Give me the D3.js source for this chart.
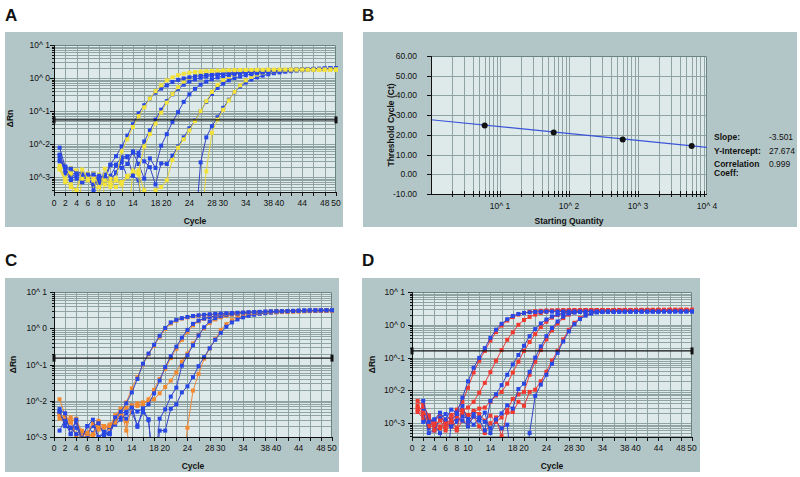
<!DOCTYPE html>
<html><head><meta charset="utf-8">
<script src="https://cdn.jsdelivr.net/npm/d3@7"></script>
<style>body{margin:0;background:#fff} svg{display:block}</style>
</head><body>
<svg id="fig" width="800" height="477"></svg>
<script>
// ---------------- DATA ----------------
const cycleTickLabels = [0,2,4,6,8,10,14,18,20,24,28,30,34,38,40,44,48,50];
const logTickExp = [1,0,-1,-2,-3];
const logTickText = ["10^ 1","10^ 0","10^-1","10^-2","10^-3"];

// Panel A (delta Rn per cycle 1..50)
const aBlue1 = [0.0078,0.0020,0.0018,0.0013,0.0012,0.0011,0.0012,0.0010,0.0011,0.0024,0.0043,0.0085,0.018,0.040,0.085,0.15,0.24,0.36,0.48,0.60,0.76,0.88,0.97,1.05,1.12,1.18,1.24,1.29,1.34,1.39,1.43,1.47,1.51,1.54,1.57,1.60,1.63,1.66,1.69,1.72,1.75,1.78,1.81,1.84,1.87,1.90,1.92,1.95,1.97,1.99];
const aYellow1 = [0.0019,0.0008,0.0006,0.0004,0.0017,0.0009,0.0008,0.0003,0.0018,0.0009,0.0009,0.0060,0.014,0.033,0.070,0.13,0.24,0.40,0.60,0.85,1.05,1.22,1.35,1.45,1.52,1.58,1.62,1.65,1.68,1.70,1.72,1.73,1.74,1.75,1.76,1.77,1.77,1.78,1.78,1.79,1.79,1.80,1.80,1.81,1.81,1.82,1.82,1.83,1.83,1.84];
const aBlue2 = [0.0045,0.0019,0.0009,0.0011,0.0007,0.0012,0.0004,0.0011,0.0008,0.0023,0.0024,0.0040,0.0043,0.0011,0.0055,0.012,0.026,0.055,0.11,0.20,0.32,0.47,0.63,0.78,0.91,1.02,1.11,1.19,1.26,1.32,1.37,1.42,1.46,1.50,1.53,1.56,1.59,1.62,1.65,1.68,1.71,1.74,1.77,1.80,1.83,1.86,1.88,1.91,1.93,1.95];
const aYellow2 = [0.0022,0.0009,0.0019,0.0016,0.0009,0.0008,0.0013,0.0005,0.0008,0.0007,0.0008,0.0007,0.0011,0.0015,0.0016,0.0085,0.020,0.042,0.090,0.18,0.33,0.53,0.78,1.00,1.18,1.32,1.43,1.51,1.57,1.62,1.66,1.69,1.71,1.73,1.74,1.75,1.76,1.77,1.78,1.78,1.79,1.79,1.80,1.80,1.81,1.81,1.82,1.82,1.83,1.83];
const aBlue3 = [0.0035,0.0015,0.0008,0.0012,0.0010,0.0009,0.0006,0.0009,0.0012,0.0008,0.0014,0.0035,0.0040,0.0055,0.0025,0.0009,0.0037,0.0019,0.0090,0.020,0.047,0.093,0.19,0.32,0.47,0.63,0.78,0.92,1.04,1.14,1.23,1.31,1.38,1.44,1.49,1.54,1.58,1.62,1.65,1.68,1.71,1.74,1.77,1.80,1.83,1.86,1.88,1.91,1.93,1.95];
const aBlue4 = [0.0030,0.0021,0.0014,0.0009,0.0007,0.0010,0.0008,0.0006,0.0009,0.0011,0.0022,0.0019,0.0025,0.0060,0.0045,0.0030,0.0020,0.0006,0.0026,0.0025,0.0045,0.0085,0.016,0.030,0.052,0.10,0.19,0.33,0.50,0.68,0.85,1.00,1.12,1.22,1.31,1.39,1.46,1.52,1.57,1.62,1.66,1.70,1.74,1.78,1.81,1.84,1.87,1.90,1.93,1.95];
const aYellow3 = [0.0018,0.0019,0.0013,-0.0002,0.0012,0.0013,0.0009,0.0012,0.0006,0.0005,0.0008,0.0006,0.0010,0.0012,0.0013,0.0004,-0.0003,0.0004,0.0005,0.0008,0.0033,0.0078,0.014,0.026,0.050,0.10,0.20,0.38,0.62,0.88,1.10,1.28,1.41,1.51,1.58,1.63,1.67,1.70,1.72,1.74,1.75,1.76,1.77,1.78,1.79,1.79,1.80,1.80,1.81,1.81];
const aBlue5 = [0.0048,0.0013,0.0011,0.0015,0.0013,0.0008,0.0013,0.0007,0.0010,0.0009,0.0013,0.0028,0.0010,0.0011,0.0008,-0.0005,-0.0008,-0.0010,-0.0009,-0.0011,-0.0010,-0.0012,-0.0009,-0.0010,-0.0006,0.0028,0.016,0.035,0.065,0.125,0.22,0.37,0.55,0.73,0.90,1.05,1.18,1.30,1.40,1.48,1.55,1.61,1.67,1.72,1.77,1.81,1.85,1.88,1.91,1.94];
const aYellow4 = [0.0017,0.0007,0.0005,0.0004,0.0011,0.0008,0.0006,-0.0002,0.0008,0.0006,0.0005,0.0007,-0.0003,0.0016,0.0012,-0.0004,-0.0006,-0.0008,-0.0007,-0.0009,-0.0010,-0.0008,-0.0009,-0.0007,-0.0008,-0.0005,0.0015,0.022,0.055,0.11,0.21,0.38,0.60,0.85,1.08,1.27,1.41,1.51,1.58,1.63,1.67,1.70,1.72,1.74,1.75,1.76,1.77,1.78,1.79,1.80];
const aThreshold = 0.054;

// Panel B (standard curve)
const bQuantity = [6, 60, 600, 6000];
const bCt = [24.8, 21.2, 17.6, 14.4];
const bYTicks = [60, 50, 40, 30, 20, 10, 0, -10];
const bXTickExp = [1, 2, 3, 4];
const bSlope = -3.501, bIntercept = 27.674, bCorr = 0.999;
const bStatLabels = ["Slope:", "Y-Intercept:", "Correlation"];
const bStatValues = ["-3.501", "27.674", "0.999"];

// Panel C
const cBlue1 = [0.0059,0.0045,0.0012,0.0030,0.0009,0.0020,0.0030,0.0010,0.0014,0.0013,0.0035,0.0050,0.0085,0.017,0.040,0.105,0.20,0.35,0.62,1.02,1.45,1.70,1.90,2.05,2.18,2.28,2.36,2.43,2.50,2.55,2.60,2.64,2.68,2.72,2.76,2.80,2.83,2.86,2.89,2.92,2.95,2.97,2.99,3.01,3.03,3.05,3.07,3.09,3.10,3.12];
const cOrange1 = [0.0110,0.0040,0.0025,0.0032,0.0011,0.0013,0.0024,0.0018,0.0020,0.0020,0.0025,0.0045,0.0090,0.022,0.045,0.10,0.19,0.33,0.58,0.95,1.35,1.62,1.85,2.00,2.12,2.22,2.30,2.37,2.43,2.49,2.54,2.59,2.63,2.67,2.71,2.75,2.78,2.81,2.84,2.87,2.89,2.91,2.93,2.95,2.97,2.99,3.01,3.02,3.03,3.04];
const cBlue2 = [0.0050,0.0020,0.0018,0.0012,0.0011,0.0013,0.0020,0.0024,0.0012,0.0019,0.0022,0.0030,0.0045,0.0065,0.0050,0.0060,0.0080,0.016,0.036,0.085,0.17,0.31,0.55,0.90,1.32,1.62,1.86,2.04,2.18,2.30,2.40,2.48,2.55,2.61,2.67,2.72,2.77,2.81,2.85,2.89,2.92,2.95,2.98,3.00,3.03,3.05,3.07,3.09,3.11,3.13];
const cOrange2 = [0.0040,0.0036,0.0028,0.0010,0.0009,0.0012,0.0011,0.0024,0.0020,0.0018,0.0040,0.0060,0.0015,0.0068,0.0072,0.0080,0.011,0.020,0.040,0.075,0.15,0.27,0.48,0.80,1.20,1.55,1.82,2.02,2.17,2.30,2.40,2.48,2.55,2.61,2.66,2.71,2.75,2.79,2.83,2.86,2.89,2.92,2.94,2.97,2.99,3.01,3.03,3.05,3.06,3.08];
const cBlue3 = [0.0015,0.0030,0.0018,0.0025,0.0008,0.0011,0.0023,0.0009,0.0013,0.0012,0.0026,0.0038,0.0032,0.0048,0.0021,0.0048,0.0031,-0.0004,0.0032,0.0058,0.013,0.023,0.093,0.18,0.34,0.63,1.07,1.55,1.90,2.15,2.32,2.45,2.55,2.63,2.70,2.76,2.81,2.86,2.90,2.94,2.97,3.00,3.03,3.06,3.08,3.10,3.12,3.14,3.16,3.18];
const cOrange3 = [0.0032,0.0030,0.0035,0.0028,0.0015,0.0010,0.0012,0.0028,0.0018,0.0022,0.0030,0.0045,0.0065,0.0075,0.0085,0.0090,0.0095,0.011,0.016,0.024,0.036,0.060,0.12,0.20,0.38,0.65,1.00,1.40,1.75,2.00,2.20,2.35,2.47,2.57,2.65,2.72,2.78,2.83,2.87,2.91,2.94,2.97,3.00,3.02,3.04,3.06,3.08,3.10,3.11,3.12];
const cBlue4 = [0.0048,0.0025,0.0012,0.0018,0.0010,0.0020,0.0013,0.0025,0.0011,0.0012,0.0030,0.0045,0.0050,0.0075,0.0019,0.0062,0.0029,-0.0003,0.0015,0.0015,0.0060,0.0080,0.017,0.025,0.045,0.090,0.16,0.28,0.48,0.75,1.10,1.45,1.75,2.00,2.20,2.36,2.50,2.60,2.70,2.78,2.85,2.91,2.96,3.00,3.04,3.08,3.11,3.14,3.17,3.20];
const cOrange4 = [0.0042,0.0021,0.0026,0.0012,0.0014,0.0011,0.0009,0.0016,0.0019,0.0017,0.0034,0.0060,0.0027,-0.0004,-0.0006,-0.0008,-0.0007,-0.0009,-0.0008,-0.0010,-0.0009,-0.0008,-0.0006,0.0018,0.019,0.055,0.145,0.275,0.50,0.90,1.30,1.66,2.00,2.24,2.40,2.50,2.58,2.65,2.71,2.76,2.80,2.84,2.88,2.91,2.94,2.96,2.98,3.00,3.02,3.04];
const cThreshold = 0.15;

// Panel D
const dBlue1 = [null,0.0048,0.0011,0.0013,0.0021,0.0013,0.0026,0.0021,0.0060,0.019,0.049,0.098,0.195,0.40,0.71,1.07,1.48,1.86,2.14,2.30,2.40,2.47,2.50,2.52,2.53,2.53,2.54,2.54,2.55,2.55,2.55,2.55,2.56,2.56,2.56,2.56,2.56,2.56,2.57,2.57,2.57,2.57,2.57,2.57,2.57,2.58,2.58,2.58,2.58,2.58];
const dRed1 = [0.0048,0.0036,0.0017,0.0006,0.0008,0.0007,0.0012,0.0026,0.0045,0.012,0.035,0.080,0.16,0.33,0.60,0.95,1.35,1.72,2.05,2.30,2.48,2.60,2.68,2.73,2.76,2.78,2.80,2.80,2.81,2.81,2.81,2.82,2.82,2.82,2.82,2.82,2.83,2.83,2.83,2.83,2.83,2.83,2.83,2.84,2.84,2.84,2.84,2.84,2.84,2.84];
const dRed2 = [0.0035,0.0021,0.0014,0.0009,0.0012,0.0011,0.0018,0.0022,0.0024,0.0030,0.0045,0.0085,0.017,0.036,0.080,0.17,0.35,0.59,1.00,1.41,1.74,2.05,2.30,2.50,2.62,2.70,2.75,2.78,2.80,2.81,2.82,2.82,2.83,2.83,2.83,2.83,2.84,2.84,2.84,2.84,2.84,2.84,2.85,2.85,2.85,2.85,2.85,2.85,2.85,2.85];
const dBlue2 = [null,0.0024,0.0005,0.0006,0.0014,0.0019,0.0012,0.0019,0.0034,0.0011,0.0019,0.0013,0.0006,0.0048,0.0076,0.0145,0.030,0.062,0.12,0.23,0.45,0.74,1.10,1.45,1.80,2.05,2.22,2.34,2.42,2.47,2.50,2.52,2.53,2.54,2.55,2.55,2.56,2.56,2.56,2.57,2.57,2.57,2.57,2.58,2.58,2.58,2.58,2.58,2.59,2.59];
const dRed3 = [0.0030,0.0017,0.0008,0.0011,0.0020,0.0009,0.0014,0.0007,0.0026,0.0018,0.0022,0.0028,0.0030,0.0045,0.0070,0.0090,0.016,0.035,0.075,0.16,0.30,0.52,0.85,1.25,1.65,2.00,2.30,2.50,2.62,2.70,2.75,2.78,2.80,2.81,2.82,2.82,2.83,2.83,2.83,2.84,2.84,2.84,2.84,2.84,2.85,2.85,2.85,2.85,2.85,2.85];
const dBlue3 = [null,0.0017,0.0007,0.0013,0.0016,0.0010,0.0008,0.0011,0.0016,0.0014,0.0009,0.0015,0.0011,0.0007,0.0013,0.0020,0.0035,0.0028,0.011,0.016,0.037,0.10,0.22,0.45,0.80,1.26,1.78,2.20,2.40,2.50,2.53,2.55,2.56,2.56,2.57,2.57,2.57,2.57,2.58,2.58,2.58,2.58,2.58,2.58,2.59,2.59,2.59,2.59,2.59,2.59];
const dRed4 = [0.0026,0.0031,0.0009,0.0007,0.0013,0.0006,0.0010,0.0016,0.0020,0.0013,0.0024,0.0019,0.0012,0.0017,0.0011,0.0015,0.0025,0.0055,0.0075,0.0090,0.030,0.075,0.17,0.36,0.68,1.10,1.60,2.05,2.40,2.60,2.70,2.75,2.78,2.80,2.81,2.82,2.82,2.83,2.83,2.83,2.84,2.84,2.84,2.84,2.84,2.85,2.85,2.85,2.85,2.85];
const dBlue4 = [null,0.0011,0.0017,0.0009,0.0005,-0.0003,0.0010,0.0014,0.0012,0.0008,0.0016,0.0012,0.0021,0.0005,0.0011,0.0007,0.0009,-0.0004,-0.0006,-0.0005,0.0005,0.0068,0.015,0.030,0.065,0.14,0.31,0.63,1.05,1.50,1.90,2.20,2.38,2.46,2.50,2.52,2.54,2.55,2.55,2.56,2.56,2.57,2.57,2.57,2.58,2.58,2.58,2.58,2.59,2.59];
const dRed5 = [0.0022,0.0014,0.0013,0.0010,0.0007,0.0013,0.0008,0.0006,0.0012,0.0010,0.0016,0.0008,0.0005,0.0010,0.0015,0.0004,0.0021,0.0022,0.0045,0.0034,0.0090,0.0105,0.019,0.037,0.081,0.16,0.36,0.70,1.15,1.60,2.00,2.30,2.50,2.62,2.70,2.75,2.78,2.80,2.81,2.82,2.83,2.83,2.84,2.84,2.84,2.85,2.85,2.85,2.85,2.85];
const dThreshold = 0.16;

// ---------------- STYLE ----------------
const FONT = "'Liberation Sans', Arial, sans-serif";
const COL = {box:"#b3c6c7", plot:"#deeaea", grid:"#8fa3a3", frame:"#6e8383", ink:"#111"};
const BLUE = {mark:"#2848e6", line:"#3344c4"};
const YELLOW = {mark:"#f3e23a", line:"#e6d43a"};
const ORANGE = {mark:"#f28a30", line:"#e98a3c"};
const RED = {mark:"#f03a30", line:"#e43c3c"};

const svg = d3.select("#fig");
svg.append("rect").attr("width",800).attr("height",477).attr("fill","#fff");

function letter(t, x, y){
  svg.append("text").attr("x",x).attr("y",y).text(t)
    .attr("font-family","'Liberation Sans', Arial, sans-serif").attr("font-weight","bold")
    .attr("font-size",17).attr("fill","#111");
}
function txt(g, x, y, s, opts={}){
  return g.append("text").attr("x",x).attr("y",y).text(s)
    .attr("font-family",FONT).attr("font-size",opts.size||8.5)
    .attr("font-weight",opts.bold?"bold":"normal")
    .attr("text-anchor",opts.anchor||"start").attr("fill",COL.ink);
}

function ampPanel(o){
  const g = svg.append("g");
  g.append("rect").attr("x",o.box[0]).attr("y",o.box[1])
    .attr("width",o.box[2]-o.box[0]).attr("height",o.box[3]-o.box[1]).attr("fill",COL.box);
  const x = d3.scaleLinear().domain([0,50]).range([o.px0,o.px1]);
  const y = d3.scaleLog().domain([o.yMin,10]).range([o.py1,o.py0]);
  g.append("rect").attr("x",o.px0).attr("y",o.py0).attr("width",o.px1-o.px0).attr("height",o.py1-o.py0).attr("fill",COL.plot);
  const hv = [];
  for (let k=-4;k<=0;k++) for (let m=1;m<=9;m++){ const v=m*Math.pow(10,k); if (v>=o.yMin && v<10) hv.push(v); }
  g.append("g").selectAll("line").data(hv).join("line")
    .attr("x1",o.px0).attr("x2",o.px1)
    .attr("y1",d=>Math.round(y(d))+0.5).attr("y2",d=>Math.round(y(d))+0.5)
    .attr("stroke",COL.grid).attr("stroke-width",1);
  g.append("g").selectAll("line").data(d3.range(2,50,2)).join("line")
    .attr("y1",o.py0).attr("y2",o.py1)
    .attr("x1",d=>Math.round(x(d))+0.5).attr("x2",d=>Math.round(x(d))+0.5)
    .attr("stroke",COL.grid).attr("stroke-width",1);
  g.append("path").attr("d",`M${o.px0},${o.py0+0.5}H${o.px1-0.5}V${o.py1}`).attr("fill","none").attr("stroke",COL.frame);
  const cid = "clip"+o.id;
  g.append("clipPath").attr("id",cid).append("rect")
    .attr("x",o.px0).attr("y",o.py0-3).attr("width",o.px1-o.px0+3).attr("height",o.py1-o.py0+3);
  const dg = g.append("g").attr("clip-path",`url(#${cid})`);
  const yv = v => v>0 ? y(v) : o.py1+40;
  const line = d3.line().defined(v=>v!==null).x((v,i)=>x(i+1)).y(yv);
  o.series.forEach(s=>{
    dg.append("path").datum(s.values).attr("d",line).attr("fill","none")
      .attr("stroke",s.style.line).attr("stroke-width",1);
    const pts = s.values.map((v,i)=>({v,c:i+1})).filter(d=>d.v!==null && d.v>0);
    dg.append("g").selectAll("rect").data(pts).join("rect")
      .attr("x",d=>x(d.c)-2).attr("y",d=>y(d.v)-2).attr("width",4).attr("height",4)
      .attr("fill",s.style.mark);
  });
  const ty = y(o.thr);
  g.append("line").attr("x1",o.px0).attr("x2",o.px1).attr("y1",ty).attr("y2",ty)
    .attr("stroke",COL.ink).attr("stroke-width",1.4);
  [o.px0,o.px1].forEach(px=>g.append("rect").attr("x",px-1.5).attr("y",ty-3.5).attr("width",3).attr("height",7).attr("fill",COL.ink));
  g.append("line").attr("x1",o.px0+0.5).attr("x2",o.px0+0.5).attr("y1",o.py0).attr("y2",o.py1).attr("stroke",COL.ink);
  g.append("line").attr("x1",o.px0).attr("x2",o.px1).attr("y1",o.py1+0.5).attr("y2",o.py1+0.5).attr("stroke",COL.ink);
  g.append("g").selectAll("line").data(hv.concat([10])).join("line")
    .attr("x1",d=> (Math.abs(Math.log10(d)%1)<1e-9 ? o.px0-4 : o.px0-2)).attr("x2",o.px0)
    .attr("y1",d=>Math.round(y(d))+0.5).attr("y2",d=>Math.round(y(d))+0.5).attr("stroke",COL.ink);
  g.append("g").selectAll("line").data(d3.range(0,51,2)).join("line")
    .attr("x1",d=>Math.round(x(d))+0.5).attr("x2",d=>Math.round(x(d))+0.5)
    .attr("y1",o.py1).attr("y2",o.py1+4).attr("stroke",COL.ink);
  logTickExp.forEach((e,i)=>{
    const v = Math.pow(10,e);
    if (v < o.yMin*0.999) return;
    txt(g, o.ylabX, y(v)+3, logTickText[i], {anchor:"end"});
  });
  cycleTickLabels.forEach(c=> txt(g, x(c), o.py1+14, String(c), {anchor:"middle"}));
  txt(g, (o.px0+o.px1)/2, o.py1+32, "Cycle", {anchor:"middle", bold:true, size:8.5});
  g.append("text").attr("transform",`translate(${o.titleX},${(o.py0+o.py1)/2}) rotate(-90)`)
    .attr("text-anchor","middle").attr("font-family",FONT).attr("font-weight","bold")
    .attr("font-size",8.5).attr("fill",COL.ink).text("ΔRn");
}

// Panel A
letter("A", 5, 21);
ampPanel({id:"A", box:[5,32,343,227], px0:54, px1:336, py0:45, py1:192, yMin:Math.pow(10,-3.45),
  thr:aThreshold, ylabX:50, titleX:13,
  series:[
    {values:aBlue5, style:BLUE},{values:aYellow4, style:YELLOW},
    {values:aBlue4, style:BLUE},{values:aYellow3, style:YELLOW},
    {values:aBlue3, style:BLUE},
    {values:aBlue2, style:BLUE},{values:aYellow2, style:YELLOW},
    {values:aBlue1, style:BLUE},{values:aYellow1, style:YELLOW}
  ]});

// Panel C
letter("C", 5, 266);
ampPanel({id:"C", box:[5,278,339,472], px0:54, px1:332, py0:292, py1:437, yMin:0.001,
  thr:cThreshold, ylabX:47, titleX:16,
  series:[
    {values:cOrange4, style:ORANGE},{values:cBlue4, style:BLUE},
    {values:cOrange3, style:ORANGE},{values:cBlue3, style:BLUE},
    {values:cOrange2, style:ORANGE},{values:cBlue2, style:BLUE},
    {values:cOrange1, style:ORANGE},{values:cBlue1, style:BLUE}
  ]});

// Panel D
letter("D", 362, 266);
ampPanel({id:"D", box:[362,278,700,472], px0:412, px1:692, py0:292, py1:437, yMin:Math.pow(10,-3.42),
  thr:dThreshold, ylabX:405, titleX:375,
  series:[
    {values:dRed5, style:RED},{values:dBlue4, style:BLUE},
    {values:dRed4, style:RED},{values:dBlue3, style:BLUE},
    {values:dRed3, style:RED},{values:dBlue2, style:BLUE},
    {values:dRed2, style:RED},
    {values:dRed1, style:RED},{values:dBlue1, style:BLUE}
  ]});

// Panel B
(function(){
  letter("B", 362, 21);
  const g = svg.append("g");
  const box=[363,32,797,227], px0=431, px1=707, py0=56, py1=194;
  g.append("rect").attr("x",box[0]).attr("y",box[1]).attr("width",box[2]-box[0]).attr("height",box[3]-box[1]).attr("fill",COL.box);
  const x = d3.scaleLog().domain([1,1e4]).range([px0,px1]);
  const y = d3.scaleLinear().domain([-10,60]).range([py1,py0]);
  g.append("rect").attr("x",px0).attr("y",py0).attr("width",px1-px0).attr("height",py1-py0).attr("fill",COL.plot);
  const vx = [];
  for (let k=0;k<4;k++) for (let m=1;m<=9;m++){ const v=m*Math.pow(10,k); if (v>1) vx.push(v); }
  g.append("g").selectAll("line").data(vx).join("line")
    .attr("x1",d=>Math.round(x(d))+0.5).attr("x2",d=>Math.round(x(d))+0.5).attr("y1",py0).attr("y2",py1)
    .attr("stroke",COL.grid);
  g.append("g").selectAll("line").data(bYTicks.slice(1,-1)).join("line")
    .attr("x1",px0).attr("x2",px1).attr("y1",d=>Math.round(y(d))+0.5).attr("y2",d=>Math.round(y(d))+0.5)
    .attr("stroke",COL.grid);
  g.append("path").attr("d",`M${px0},${py0+0.5}H${px1-0.5}V${py1}`).attr("fill","none").attr("stroke",COL.frame);
  const fit = q => bIntercept + bSlope*Math.log10(q);
  g.append("line").attr("x1",x(1)).attr("y1",y(fit(1))).attr("x2",x(1e4)).attr("y2",y(fit(1e4)))
    .attr("stroke","#3a55d8").attr("stroke-width",1.2);
  g.append("g").selectAll("circle").data(bQuantity.map((q,i)=>[q,bCt[i]])).join("circle")
    .attr("cx",d=>x(d[0])).attr("cy",d=>y(d[1])).attr("r",3).attr("fill","#111");
  g.append("line").attr("x1",px0+0.5).attr("x2",px0+0.5).attr("y1",py0).attr("y2",py1).attr("stroke",COL.ink);
  g.append("line").attr("x1",px0).attr("x2",px1).attr("y1",py1+0.5).attr("y2",py1+0.5).attr("stroke",COL.ink);
  g.append("g").selectAll("line").data(bYTicks).join("line")
    .attr("x1",px0-4).attr("x2",px0).attr("y1",d=>Math.round(y(d))+0.5).attr("y2",d=>Math.round(y(d))+0.5).attr("stroke",COL.ink);
  g.append("g").selectAll("line").data(vx).join("line")
    .attr("x1",d=>Math.round(x(d))+0.5).attr("x2",d=>Math.round(x(d))+0.5).attr("y1",py1-3).attr("y2",py1+3).attr("stroke",COL.ink);
  bYTicks.forEach(d=> txt(g, px0-14, y(d)+3, d3.format(".2f")(d).replace("−","-"), {anchor:"end"}));
  bXTickExp.forEach(d=> txt(g, x(Math.pow(10,d)), py1+15, "10^ "+d, {anchor:"middle"}));
  txt(g, (px0+px1)/2, py1+30, "Starting Quantity", {anchor:"middle", bold:true, size:8.5});
  g.append("text").attr("transform",`translate(394,${(py0+py1)/2}) rotate(-90)`).attr("text-anchor","middle")
    .attr("font-family",FONT).attr("font-weight","bold").attr("font-size",8.5).attr("fill",COL.ink).text("Threshold Cycle (Ct)");
  const sy = [140, 154, 167];
  bStatLabels.forEach((s,i)=>{
    txt(g, 714, sy[i], s, {bold:true, size:8.5});
    txt(g, 769, sy[i], bStatValues[i], {size:8.5});
  });
  txt(g, 714, 176, "Coeff:", {bold:true, size:8.5});
})();
</script>
</body></html>
